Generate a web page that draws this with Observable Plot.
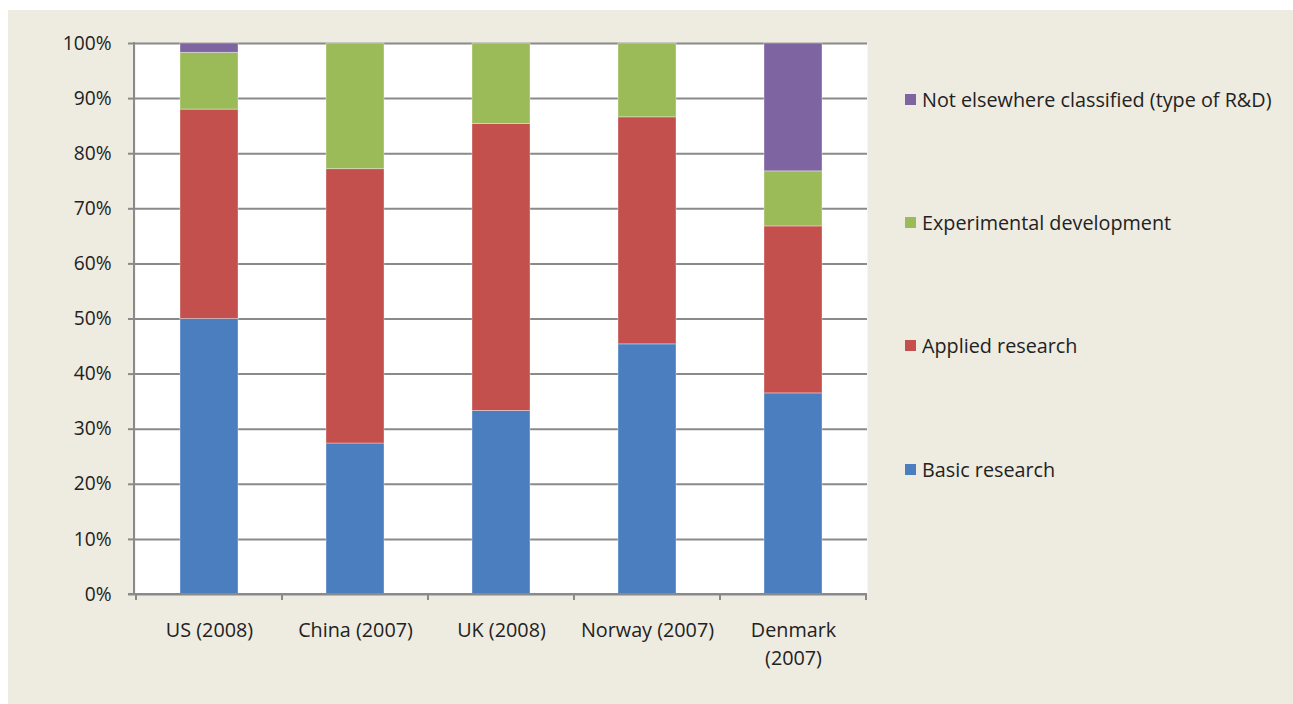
<!DOCTYPE html>
<html>
<head>
<meta charset="utf-8">
<script src="https://cdn.jsdelivr.net/npm/d3@7"></script>
<script src="https://cdn.jsdelivr.net/npm/@observablehq/plot@0.6"></script>
<style>
  html, body { margin: 0; padding: 0; background: #ffffff; }
  #wrap { position: relative; width: 1293px; height: 704px; overflow: hidden; font-family: "Open Sans", Lato, sans-serif; }
  #bg { position: absolute; left: 8px; top: 10px; width: 1285px; height: 694px; background: #eeebe0; }
  #chart { position: absolute; left: 0; top: 0; }
  #legend { position: absolute; left: 905px; top: 0; width: 388px; height: 704px; }
  .item { position: absolute; left: 0; display: flex; align-items: center; font-size: 19.8px; color: #222; white-space: nowrap; }
  .sw { width: 11px; height: 11px; margin-right: 6px; }
</style>
</head>
<body>
<div id="wrap">
  <div id="bg"></div>
  <div id="chart"></div>
  <div id="legend"></div>
</div>
<script>
// Categories (countries / years)
const categories = ["US (2008)", "China (2007)", "UK (2008)", "Norway (2007)", "Denmark (2007)"];
// Series names, bottom to top in the stack
const seriesNames = ["Basic research", "Applied research", "Experimental development", "Not elsewhere classified (type of R&D)"];
const seriesColors = ["#4a7ebf", "#c4504d", "#9bbb59", "#7f64a2"];
// Shares (fractions) per category, one array per series
const basicResearch        = [0.500, 0.274, 0.333, 0.454, 0.365];
const appliedResearch      = [0.380, 0.498, 0.521, 0.412, 0.303];
const experimentalDev      = [0.103, 0.228, 0.146, 0.134, 0.100];
const notElsewhere         = [0.017, 0.000, 0.000, 0.000, 0.232];
// Y tick values
const yTicks = [0, 0.1, 0.2, 0.3, 0.4, 0.5, 0.6, 0.7, 0.8, 0.9, 1.0];

const seriesValues = [basicResearch, appliedResearch, experimentalDev, notElsewhere];
const rows = [];
seriesNames.forEach((s, si) => {
  categories.forEach((c, ci) => {
    rows.push({category: c, series: s, value: seriesValues[si][ci]});
  });
});

const gray = "#8a8a8a";
const fontFamily = "'Open Sans', Lato, sans-serif";

// Custom mark: category-boundary ticks and left axis line
function frameTicks(index, scales, values, dimensions) {
  const x = scales.x;
  const step = x.step ? x.step() : (x(categories[1]) - x(categories[0]));
  const bw = x.bandwidth ? x.bandwidth() : 0;
  const off = (step - bw) / 2;
  const yb = dimensions.height - dimensions.marginBottom;
  const yt = dimensions.marginTop;
  const g = d3.create("svg:g").attr("stroke", gray).attr("fill", "none");
  const edges = categories.map(c => x(c) - off).concat([x(categories[categories.length - 1]) + bw + off]);
  edges.forEach(e => {
    g.append("line").attr("x1", e).attr("x2", e).attr("y1", yb).attr("y2", yb + 6).attr("stroke-width", 2);
  });
  g.append("line").attr("x1", dimensions.marginLeft - 1).attr("x2", dimensions.marginLeft - 1)
    .attr("y1", yt - 1).attr("y2", yb + 1).attr("stroke-width", 2);
  g.append("line").attr("x1", dimensions.marginLeft - 7).attr("x2", dimensions.width - dimensions.marginRight)
    .attr("y1", yb).attr("y2", yb).attr("stroke-width", 2);
  return g.node();
}

const plot = Plot.plot({
  width: 1293,
  height: 704,
  marginLeft: 135,
  marginRight: 426,
  marginTop: 43,
  marginBottom: 110,
  style: {background: "transparent", fontFamily: fontFamily, fontSize: "19.5px", color: "#222"},
  x: {domain: categories, paddingInner: 0.6, paddingOuter: 0.3, label: null},
  y: {domain: [0, 1], label: null},
  color: {domain: seriesNames, range: seriesColors},
  marks: [
    Plot.frame({fill: "white", stroke: null}),
    Plot.ruleY(yTicks, {stroke: gray, strokeWidth: 2}),
    Plot.barY(rows, Plot.stackY({order: seriesNames}, {
      x: "category", y: "value", fill: "series", z: "series",
      stroke: "white", strokeOpacity: 0.35, strokeWidth: 1, inset: 0
    })),
    frameTicks,
    Plot.axisY({
      ticks: yTicks, tickSize: 7, tickPadding: 17, stroke: gray, strokeWidth: 2,
      tickFormat: d => Math.round(d * 100) + "%", fontSize: 19.2, label: null
    }),
    Plot.axisX({
      tickSize: 0, tickPadding: 23, fontSize: 19.8, lineHeight: 1.4, label: null,
      tickFormat: d => d === "Denmark (2007)" ? "Denmark\n(2007)" : d
    })
  ]
});
document.getElementById("chart").appendChild(plot);

// Legend (top to bottom: reversed stack order)
const legendY = [99, 222, 345, 469];
const legend = document.getElementById("legend");
seriesNames.slice().reverse().forEach((s, i) => {
  const color = seriesColors[seriesNames.length - 1 - i];
  const div = document.createElement("div");
  div.className = "item";
  div.style.top = (legendY[i] - 13) + "px";
  div.style.height = "26px";
  div.innerHTML = `<span class="sw" style="background:${color}"></span><span>${s}</span>`;
  legend.appendChild(div);
});
</script>
</body>
</html>
